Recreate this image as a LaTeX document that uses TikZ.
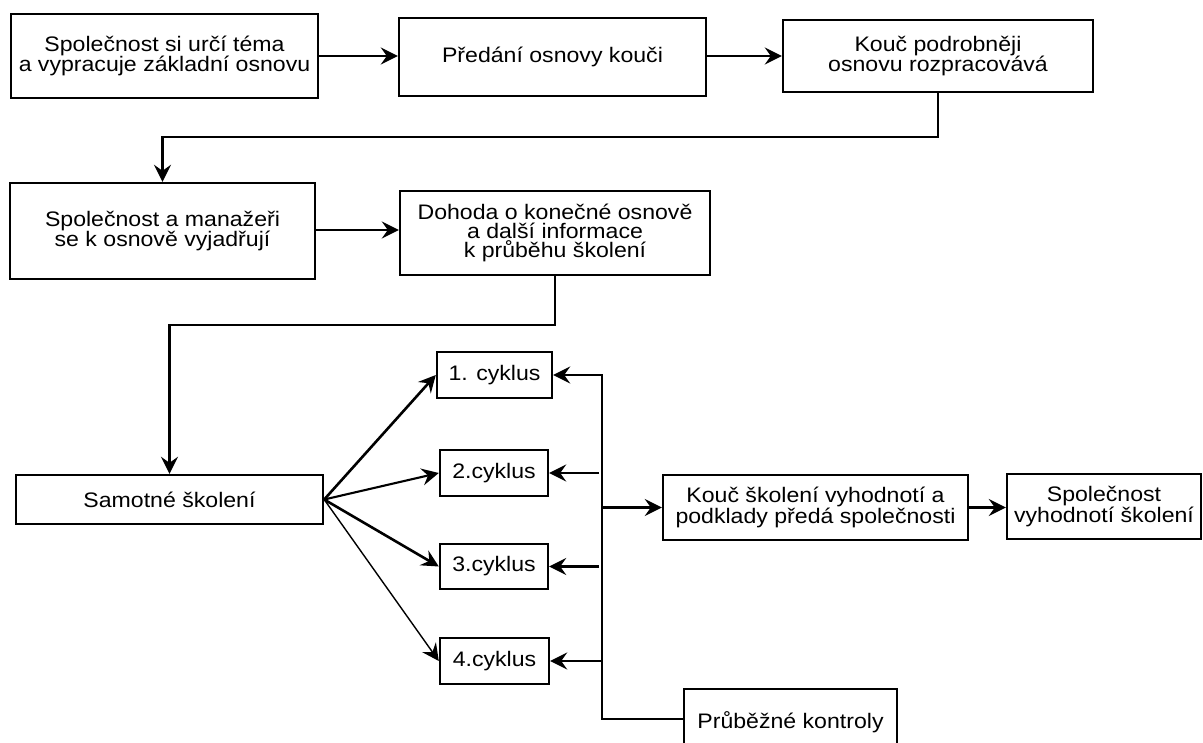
\documentclass[tikz,border=0pt]{standalone}
\usepackage{fontspec}
\setmainfont{Liberation Sans}[FakeStretch=1.1]
\usetikzlibrary{arrows.meta}
\begin{document}
\begin{tikzpicture}[x=1pt,y=-1pt,
  box/.style={draw=black, line width=2.4pt, fill=white, inner sep=0pt, align=center,
    font=\fontsize{21pt}{19pt}\selectfont},
  conn/.style={draw=black, line width=2.3pt},
  arr/.style={conn, -{Stealth[length=17pt,width=17pt,inset=6pt]}}]
\useasboundingbox (0,0) rectangle (1203,743);
\fill[white] (0,0) rectangle (1203,743);

\node[box, minimum width=307pt, minimum height=84pt] (A) at (164.5,56) {Společnost si určí téma\\a vypracuje základní osnovu};
\node[box, minimum width=307pt, minimum height=78pt] (B) at (552.5,57) {Předání osnovy kouči};
\node[box, minimum width=310pt, minimum height=72pt] (C) at (938,56) {Kouč podrobněji\\osnovu rozpracovává};
\node[box, minimum width=305pt, minimum height=96pt] (D) at (162.5,231) {Společnost a manažeři\\se k osnově vyjadřují};
\node[box, minimum width=310pt, minimum height=84pt] (E) at (555,233) {Dohoda o konečné osnově\\a další informace\\k průběhu školení};
\node[box, minimum width=307pt, minimum height=49pt] (S) at (169.5,499.5) {Samotné školení};
\node[box, minimum width=115pt, minimum height=46pt] (C1) at (494.5,375) {1. cyklus};
\node[box, minimum width=108pt, minimum height=46pt] (C2) at (494,473) {2.cyklus};
\node[box, minimum width=108pt, minimum height=45pt] (C3) at (494,566.5) {3.cyklus};
\node[box, minimum width=109pt, minimum height=46pt] (C4) at (494.5,661) {4.cyklus};
\node[box, minimum width=305pt, minimum height=65pt] (K) at (815.5,507.5) {Kouč školení vyhodnotí a\\podklady předá společnosti};
\node[box, minimum width=194pt, minimum height=65pt] (SV) at (1104,506.5) {Společnost\\vyhodnotí školení};
\node[box, minimum width=213pt, minimum height=66pt] (P) at (790.5,722) {Průběžné kontroly};

\coordinate (bt) at (602,375);
\coordinate (bb) at (602,719);
\coordinate (cb) at (938,137);
\coordinate (eb) at (555,325);

\draw[arr] (A.east |- 0,56) -- (B.west |- 0,56);
\draw[arr] (B.east |- 0,56) -- (C.west |- 0,56);
\draw[arr] (C.south) -- (cb) -| (D.north);
\draw[arr] (D.east |- 0,230) -- (E.west |- 0,230);
\draw[arr] (E.south) -- (eb) -| (S.north);

\draw[arr, line width=2.6pt] (S.east) -- (C1.west);
\draw[arr, line width=2.1pt] (S.east) -- (C2.west);
\draw[arr, line width=2.6pt] (S.east) -- (C3.west);
\draw[arr, line width=1.4pt] (S.east) -- (C4.west);

\draw[arr] (P.west |- bb) -- (bb) -- (bt) -- (C1.east);
\draw[arr] (C2.east -| 599,0) -- (C2.east);
\draw[arr] (C3.east -| 599,0) -- (C3.east);
\draw[arr] (C4.east -| bt) -- (C4.east);
\draw[arr] (K.west -| bt) -- (K.west);
\draw[arr] (K.east) -- (K.east -| SV.west);
\end{tikzpicture}
\end{document}
